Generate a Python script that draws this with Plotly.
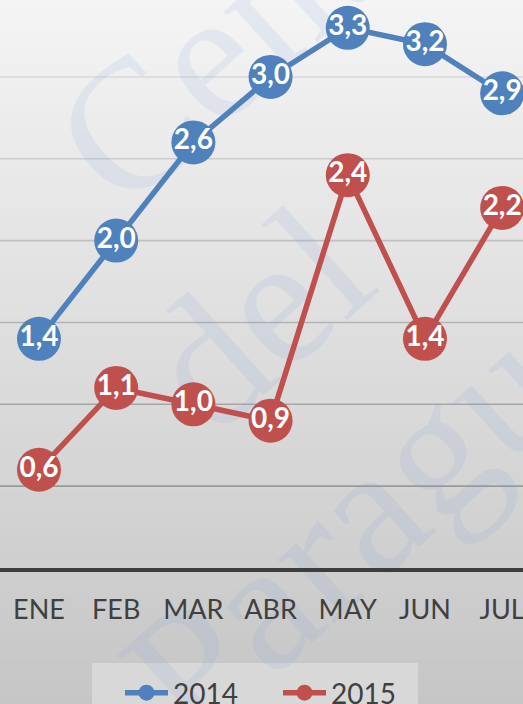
import plotly.graph_objects as go

# ---- data ----
months = ["ENE", "FEB", "MAR", "ABR", "MAY", "JUN", "JUL"]
serie_2014 = [1.4, 2.0, 2.6, 3.0, 3.3, 3.2, 2.9]
serie_2015 = [0.6, 1.1, 1.0, 0.9, 2.4, 1.4, 2.2]
grid_values = [0.5, 1.0, 1.5, 2.0, 2.5, 3.0]
watermark_lines = ["Central", "del", "Paraguay"]

W, H = 523, 704
BLUE = "#4f81bd"
RED = "#c0504d"

fig = go.Figure()

for name, vals, col in [("2014", serie_2014, BLUE), ("2015", serie_2015, RED)]:
    fig.add_trace(go.Scatter(
        x=months, y=vals, name=name, mode="lines+markers+text",
        line=dict(color=col, width=5.5),
        marker=dict(color=col, size=44, line=dict(width=0)),
        texttemplate="%{y:.1f}", textposition="middle center",
        textfont=dict(family="Lato", size=28, color="white", weight="bold"),
        cliponaxis=False,
    ))

shapes = []
# vertical gradient background
N = 80
for i in range(N):
    t = i / (N - 1)
    c = int(round(244 - 46 * t))
    shapes.append(dict(type="rect", xref="paper", yref="paper",
                       x0=0, x1=1, y0=1 - (i + 1) / N, y1=1 - i / N + 0.001,
                       fillcolor=f"rgb({c},{c},{c})", line=dict(width=0),
                       layer="below"))

# legend backdrop
shapes.append(dict(type="rect", xref="paper", yref="paper",
                   x0=92 / W, x1=418 / W, y0=-0.01, y1=(H - 663) / H,
                   fillcolor="#d8d8d8", line=dict(width=0), layer="below"))

# gridlines with darkening colour toward the bottom
gmin, gmax = min(grid_values), max(grid_values)
for gv in grid_values:
    t = (gmax - gv) / (gmax - gmin)
    c = int(round(216 - 62 * t))
    shapes.append(dict(type="line", xref="paper", yref="y", x0=0, x1=1,
                       y0=gv, y1=gv, line=dict(color=f"rgb({c},{c},{c})", width=1.6),
                       layer="below"))

# watermark (faint rotated text)
wm_pos = [(0.52, 1.04), (0.465, 0.57), (0.755, 0.35)]
for txt, (px, py) in zip(watermark_lines, wm_pos):
    shapes.append(dict(type="rect", xref="paper", yref="paper",
                       x0=px - 0.01, x1=px + 0.01, y0=py - 0.01, y1=py + 0.01,
                       line=dict(width=0), fillcolor="rgba(0,0,0,0)", layer="below",
                       label=dict(text=txt, textangle=-42, textposition="middle center",
                                  font=dict(family="Liberation Serif", size=185,
                                            color="rgba(120,165,225,0.13)"))))

ybot = (H - 568) / H
fig.update_layout(
    width=W, height=H,
    margin=dict(l=0, r=0, t=0, b=0, autoexpand=False),
    paper_bgcolor="#d6d6d6",
    plot_bgcolor="rgba(0,0,0,0)",
    separators=", ",
    shapes=shapes,
    showlegend=True,
    legend=dict(orientation="h", x=120 / W, xanchor="left", y=(H - 668) / H, yanchor="top",
                bgcolor="rgba(0,0,0,0)", font=dict(family="Lato", size=28, color="#404040"),
                itemwidth=43, entrywidth=100, borderwidth=0, tracegroupgap=0),
    xaxis=dict(type="category", range=[-0.505, 6.27], showgrid=False, zeroline=False,
               showline=True, linecolor="#3d3d3d", linewidth=3.5, automargin=False,
               tickfont=dict(family="Lato", size=27, color="#404040"),
               ticks="", ticklabelstandoff=15, fixedrange=True),
    yaxis=dict(domain=[ybot, 1], range=[0, 3.47], showgrid=False, zeroline=False,
               showticklabels=False, showline=False, ticks="", fixedrange=True,
               automargin=False),
)

fig.write_html("out.html", config={"displayModeBar": False},
               post_script="document.body.style.margin='0';document.body.style.overflow='hidden';")
